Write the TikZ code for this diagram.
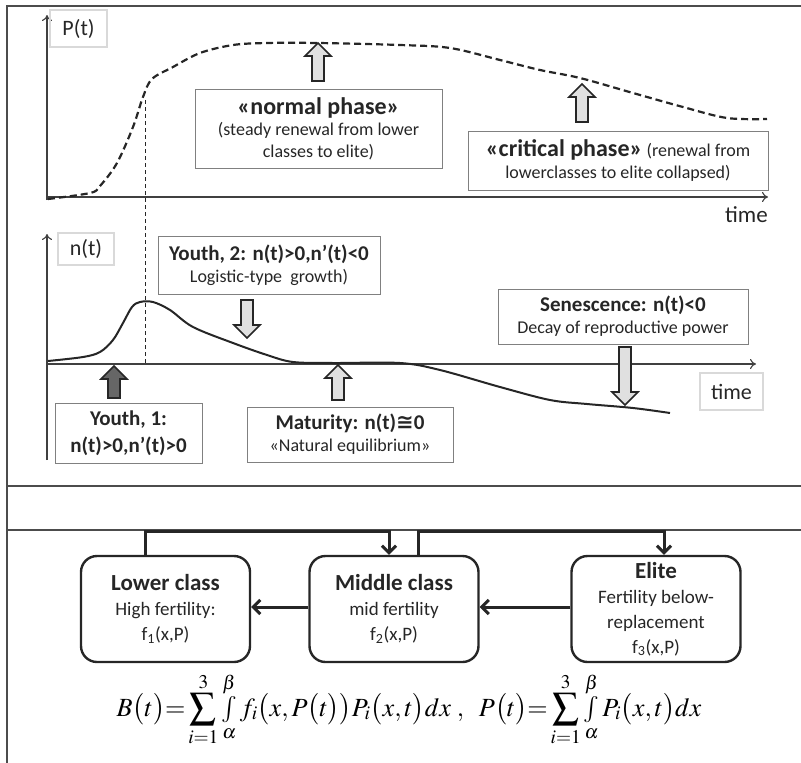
\documentclass[tikz,border=0pt]{standalone}
\usepackage{mathptmx}
\usepackage[no-math]{fontspec}
\setmainfont{Carlito}
\newfontfamily\symfnt{DejaVu Sans}
\usetikzlibrary{arrows.meta}
\newcommand\upblock[4]{%
  \draw[blk,fill=#4] ({#1-6},#2) -- ({#1-6},{#3+13}) -- ({#1-13},{#3+13}) -- (#1,#3) -- ({#1+13},{#3+13}) -- ({#1+6},{#3+13}) -- ({#1+6},#2) -- cycle;}
\newcommand\downblock[4]{%
  \draw[blk,fill=#4] ({#1-6},#2) -- ({#1-6},{#3-13}) -- ({#1-13},{#3-13}) -- (#1,#3) -- ({#1+13},{#3-13}) -- ({#1+6},{#3-13}) -- ({#1+6},#2) -- cycle;}
\newcommand\smint{\mathop{\textstyle\int}\limits}
\begin{document}
\begin{tikzpicture}[x=1pt,y=-1pt,
  frame/.style={line width=1.2pt, draw=black!70},
  lbl/.style={draw=black!15, line width=1.5pt, inner sep=0pt, font=\fontsize{22}{24}\selectfont, text=black!85},
  note/.style={draw=black!50, line width=0.7pt, align=center, inner sep=0pt, font=\fontsize{18}{22}\selectfont, text=black!85},
  cls/.style={draw=black!85, line width=2.4pt, rounded corners=16pt, minimum width=169pt, minimum height=106pt, inner sep=0pt, align=center, font=\fontsize{19}{25}\selectfont, text=black!85},
  conn/.style={line width=3pt, draw=black!85},
  axis/.style={line width=1.1pt, draw=black!75, -{To[length=6pt,width=10pt]}},
  blk/.style={draw=black!85, line width=1.6pt, line join=miter},
  pcurve/.style={line width=2.2pt, draw=black!85, dash pattern=on 7pt off 4pt},
  ncurve/.style={line width=2pt, draw=black!85},
]
\useasboundingbox (0,0) rectangle (801,763);
% frame
\draw[frame] (7,763) -- (7,6) -- (801,6);
\draw[frame] (7,486) -- (801,486);
\draw[frame] (7,530) -- (801,530);

% ---------- P(t) panel ----------
\draw[axis] (47,200) -- (47,15);
\draw[axis] (47,197) -- (768,197);
\node[lbl, minimum width=57pt, minimum height=37pt] (Plbl) at (78.5,28.5) {P(t)};
\node[anchor=base east, font=\fontsize{23}{24}\selectfont, text=black!85, inner sep=0pt] (time1) at (768,222) {time};
\draw[pcurve] plot[smooth, tension=0.55] coordinates {(48,199) (90,193) (100,186) (117,163) (133,127) (143,97) (152,79) (173,67) (200,53) (233,45) (267,43) (318,43) (400,45) (450,48) (500,60) (540,70) (580,78) (633,93) (683,107) (727,118) (767,119)};
\draw[line width=1pt, draw=black!85, dash pattern=on 4pt off 3pt] (145,100) -- (145,364);

\node[note, minimum width=247pt, minimum height=79pt] (normal) at (318.5,128.5)
  {{\bfseries\fontsize{24}{24}\selectfont «normal phase»}\\[-1pt](steady renewal from lower\\classes to elite)};
\upblock{318}{81}{43}{black!12}
\node[note, minimum width=300pt, minimum height=59pt] (critical) at (618,160.5)
  {{\bfseries\fontsize{24}{24}\selectfont «critical phase»} (renewal from\\lowerclasses to elite collapsed)};
\upblock{582}{122}{84}{black!12}

% ---------- n(t) panel ----------
\draw[axis] (47,460) -- (47,234);
\draw[axis] (47,364) -- (756,364);
\node[lbl, minimum width=56pt, minimum height=32pt] (nlbl) at (86,249) {n(t)};
\node[lbl, minimum width=63pt, minimum height=37pt] (time2) at (731.5,391.5) {time};
\draw[ncurve] plot[smooth, tension=0.55] coordinates {(48,361) (83,357) (100,352) (113,340) (123,323) (132,307) (140,302) (153,302) (170,310) (193,327) (233,343) (267,355) (293,362) (333,363) (400,363) (440,370) (500,387) (550,400) (587,404) (633,408) (670,413)};

\node[note, minimum width=222pt, minimum height=58pt] (youth2) at (269,265)
  {{\bfseries\fontsize{21}{22}\selectfont Youth, 2: n(t)>0,n’(t)<0}\\Logistic-type\ \ growth)};
\downblock{247}{300}{338}{black!12}
\node[note, minimum width=147pt, minimum height=60pt, font=\bfseries\fontsize{21}{27}\selectfont] (youth1) at (128.5,433)
  {Youth, 1:\\n(t)>0,n’(t)>0};
\upblock{114}{398}{366}{black!60}
\node[note, minimum width=206pt, minimum height=55pt] (maturity) at (350,434.5)
  {{\bfseries\fontsize{21}{22}\selectfont Maturity: n(t){\symfnt ≅}0}\\«Natural equilibrium»};
\upblock{338}{400}{365}{black!12}
\node[note, minimum width=250pt, minimum height=55pt] (senescence) at (623,316.5)
  {{\bfseries\fontsize{21}{22}\selectfont Senescence: n(t)<0}\\Decay of reproductive power};
\downblock{625}{347}{405}{black!12}

% ---------- classes ----------
\node[cls] (lower) at (165.5,609)
  {{\bfseries\fontsize{23}{25}\selectfont Lower class}\\High fertility:\\f\textsubscript{1}(x,P)};
\node[cls] (middle) at (394,609)
  {{\bfseries\fontsize{23}{25}\selectfont Middle class}\\mid fertility\\f\textsubscript{2}(x,P)};
\node[cls] (elite) at (656,609)
  {{\bfseries\fontsize{23}{25}\selectfont Elite}\\Fertility below-\\replacement\\f\textsubscript{3}(x,P)};

\coordinate (k1) at (145,531);
\coordinate (k2) at (389,531);
\coordinate (k3) at (418,531);
\coordinate (k4) at (664,531);
\coordinate (h) at (0,607);
\draw[conn, -{Straight Barb[length=7pt,width=14pt]}] (lower.north -| k1) -- (k1) -- (k2) -- (middle.north -| k2);
\draw[conn, -{Straight Barb[length=7pt,width=14pt]}] (middle.north -| k3) -- (k3) -- (k4) -- (elite.north -| k4);
\draw[conn, -{Straight Barb[length=7pt,width=14pt]}] (middle.west |- h) -- (lower.east |- h);
\draw[conn, -{Straight Barb[length=7pt,width=14pt]}] (elite.west |- h) -- (middle.east |- h);

\node[anchor=base, inner sep=0pt, font=\fontsize{26.2}{32}\selectfont] (formula) at (409,716)
  {$\displaystyle B\bigl(t\bigr){=}\sum\limits_{i=1}^{3}\smint_{\alpha}^{\beta} f_i\bigl(x,P\bigl(t\bigr)\bigr)P_i\bigl(x,t\bigr)dx\ ,\ \ P\bigl(t\bigr){=}\sum\limits_{i=1}^{3}\smint_{\alpha}^{\beta}P_i\bigl(x,t\bigr)dx$};
\end{tikzpicture}
\end{document}
